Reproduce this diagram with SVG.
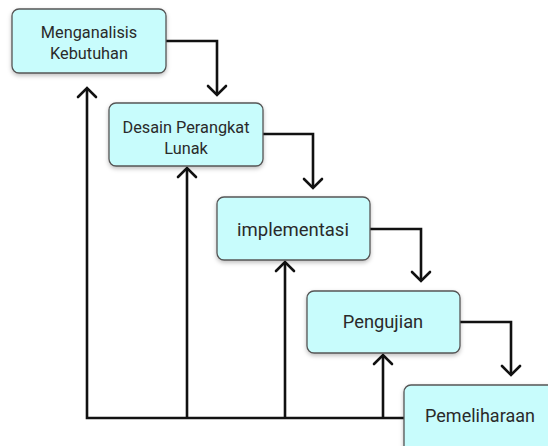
<svg xmlns="http://www.w3.org/2000/svg" width="548" height="446" viewBox="0 0 548 446">
  <defs>
    <filter id="shadow" x="-10%" y="-10%" width="125%" height="135%">
      <feDropShadow dx="0" dy="2" stdDeviation="2" flood-color="#000" flood-opacity="0.25"/>
    </filter>
  </defs>
  <style>
    .box { fill: #c8fcfc; stroke: #555; stroke-width: 1.3; filter: url(#shadow); }
    .lbl { font-family: Roboto, "Liberation Sans", sans-serif; fill: #2a2a2a; text-anchor: middle; }
    .wire { fill: none; stroke: #111; stroke-width: 2.6; stroke-linejoin: miter; }
    .head { fill: none; stroke: #111; stroke-width: 2.6; stroke-linecap: round; stroke-linejoin: miter; }
  </style>
  <rect width="548" height="446" fill="#fff"/>

  <!-- connectors -->
  <g id="connectors">
    <!-- forward steps -->
    <path class="wire" d="M166 41 H217 V95"/>
    <path class="head" d="M208 86 L217 95 L226 86"/>
    <path class="wire" d="M263 134 H313 V188"/>
    <path class="head" d="M304 179 L313 188 L322 179"/>
    <path class="wire" d="M370 229 H421 V281"/>
    <path class="head" d="M412 272 L421 281 L430 272"/>
    <path class="wire" d="M460 322 H511 V375"/>
    <path class="head" d="M502 366 L511 375 L520 366"/>
    <!-- feedback loop -->
    <path class="wire" d="M404 418 H87 V89"/>
    <path class="wire" d="M187 418 V168"/>
    <path class="wire" d="M285 418 V262"/>
    <path class="wire" d="M383 418 V355"/>
    <path class="head" d="M78 97 L87 88 L96 97"/>
    <path class="head" d="M178 177 L187 168 L196 177"/>
    <path class="head" d="M276 271 L285 262 L294 271"/>
    <path class="head" d="M374 364 L383 355 L392 364"/>
  </g>

  <g id="menganalisis">
    <rect class="box" x="12" y="9" width="154" height="64" rx="7"/>
    <text class="lbl" x="89" y="38" font-size="16.3">Menganalisis</text>
    <text class="lbl" x="89" y="59" font-size="16.3">Kebutuhan</text>
  </g>
  <g id="desain">
    <rect class="box" x="109" y="103" width="154" height="63" rx="7"/>
    <text class="lbl" x="186" y="133" font-size="16.3">Desain Perangkat</text>
    <text class="lbl" x="186" y="154" font-size="16.3">Lunak</text>
  </g>
  <g id="implementasi">
    <rect class="box" x="217" y="197" width="153" height="63" rx="7"/>
    <text class="lbl" x="293" y="236" font-size="18.5">implementasi</text>
  </g>
  <g id="pengujian">
    <rect class="box" x="307" y="291" width="153" height="62" rx="7"/>
    <text class="lbl" x="383" y="328" font-size="18.3">Pengujian</text>
  </g>
  <g id="pemeliharaan">
    <rect class="box" x="404" y="385" width="160" height="80" rx="7"/>
    <text class="lbl" x="480" y="422" font-size="18">Pemeliharaan</text>
  </g>
</svg>
